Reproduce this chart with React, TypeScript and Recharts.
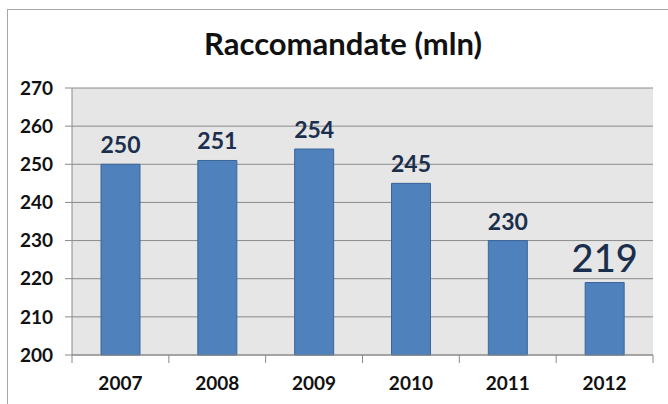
import { BarChart, Bar, XAxis, YAxis, CartesianGrid, LabelList } from 'recharts'

const years = ['2007', '2008', '2009', '2010', '2011', '2012']
const values = [250, 251, 254, 245, 230, 219]
const yTicks = [200, 210, 220, 230, 240, 250, 260, 270]

const data = years.map((year, i) => ({ year, value: values[i] }))

const FONT = 'Lato, "Open Sans", sans-serif'
const PLOT_LEFT = 72
const PLOT_RIGHT = 653

function XTick(props: any) {
  const { x, y, payload } = props
  const half = (PLOT_RIGHT - PLOT_LEFT) / years.length / 2
  return (
    <g>
      <line x1={x + half} y1={y - 8} x2={x + half} y2={y} stroke="#8a8a8a" />
      {payload.index === 0 && <line x1={x - half} y1={y - 8} x2={x - half} y2={y} stroke="#8a8a8a" />}
      <text x={x} y={y + 27} textAnchor="middle" fontFamily={FONT} fontWeight={700} fontSize={19} fill="#111">
        {payload.value}
      </text>
    </g>
  )
}

function ValueLabel(props: any) {
  const { x, y, width, value } = props
  const big = value === values[values.length - 1]
  return (
    <text
      x={x + width / 2}
      y={y - 11}
      textAnchor="middle"
      fontFamily={FONT}
      fontWeight={big ? 500 : 700}
      fontSize={big ? 38 : 23}
      fill="#1b2f4d"
    >
      {value}
    </text>
  )
}

export default function App() {
  return (
    <div style={{ position: 'fixed', left: 0, top: 0, width: 668, height: 404, background: '#fff' }}>
      <div
        style={{
          position: 'absolute',
          left: 7,
          top: 9,
          width: 661,
          height: 395,
          borderLeft: '1.5px solid #a6a6a6',
          borderTop: '1.5px solid #a6a6a6',
        }}
      />
      <div
        style={{
          position: 'absolute',
          left: 0,
          top: 24,
          width: 686,
          textAlign: 'center',
          fontFamily: FONT,
          fontWeight: 700,
          fontSize: 31,
          color: '#111',
        }}
      >
        Raccomandate (mln)
      </div>
      <div style={{ position: 'absolute', left: 0, top: 0 }}>
        <BarChart width={668} height={404} data={data} margin={{ top: 88, right: 15, bottom: 9, left: 0 }}>
          <CartesianGrid fill="#e6e6e6" stroke="#8a8a8a" vertical={false} />
          <XAxis
            dataKey="year"
            stroke="#8a8a8a"
            tickLine={false}
            tick={<XTick />}
            height={40}
            interval={0}
          />
          <YAxis
            domain={[200, 270]}
            ticks={yTicks}
            stroke="#8a8a8a"
            width={PLOT_LEFT}
            tickSize={7}
            tickMargin={12}
            tick={{ fontFamily: FONT, fontWeight: 700, fontSize: 19, fill: '#111' }}
            interval={0}
          />
          <Bar dataKey="value" barSize={39} fill="#4f81bd" stroke="#3a6599" isAnimationActive={false}>
            <LabelList dataKey="value" content={<ValueLabel />} />
          </Bar>
        </BarChart>
      </div>
    </div>
  )
}
